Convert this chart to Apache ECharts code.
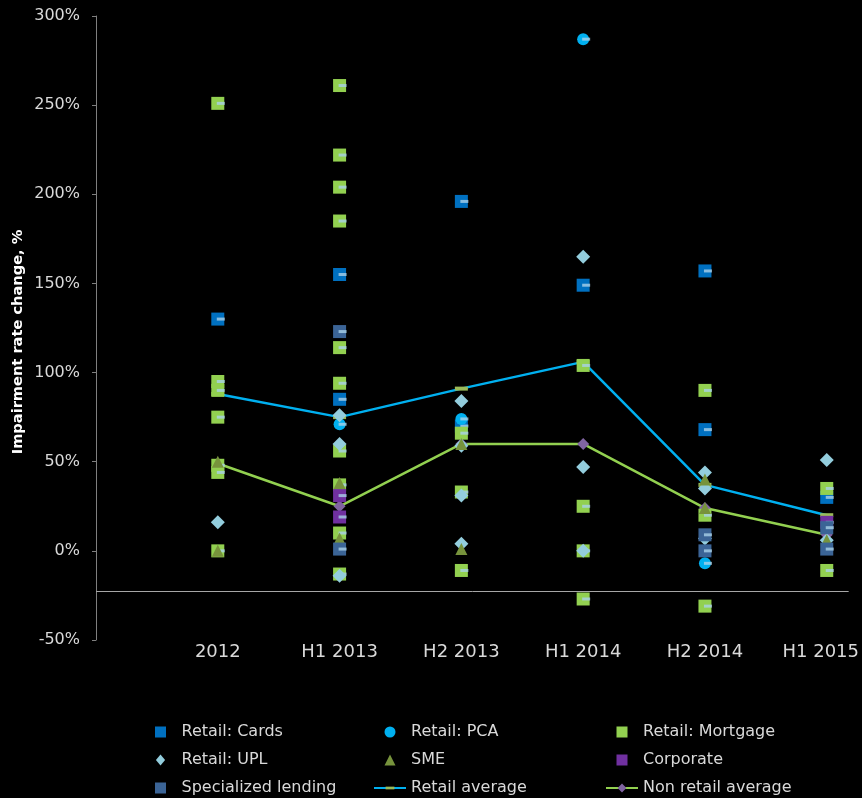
<!DOCTYPE html>
<html>
<head>
<meta charset="utf-8">
<script src="https://cdn.jsdelivr.net/npm/echarts@6/dist/echarts.min.js"></script>
<style>
  html, body { margin: 0; padding: 0; background: #000; overflow: hidden; }
  #chart { width: 862px; height: 798px; }
</style>
</head>
<body>
<div id="chart"></div>
<script>
// Reporting periods along the horizontal axis
const periods = ['2012', 'H1 2013', 'H2 2013', 'H1 2014', 'H2 2014', 'H1 2015'];

// Impairment rate change (%) per portfolio, one list of observations per period
const retailCards    = [[130], [155, 85], [196, 70], [149], [157, 68], [30]];
const retailPCA      = [[], [71], [74], [287], [-7], []];
const retailMortgage = [[251, 95, 90, 75, 48, 44, 0], [261, 222, 204, 185, 114, 94, 56, 37, 10, -13], [66, 33, -11], [104, 25, 0, -27], [90, 20, -31], [35, -11]];
const retailUPL      = [[16], [76, 60, -14], [84, 59, 31, 4], [165, 47, 0], [44, 35, 7], [51, 6]];
const sme            = [[50, 0], [38, 7], [60, 1], [], [40, 24], [6]];
const corporate      = [[], [31, 19], [], [], [], [16]];
const specialized    = [[], [123, 1], [], [], [9, 0], [13, 1]];

// Period averages
const retailAverage    = [88, 75, 91, 106, 37, 20];
const nonRetailAverage = [49, 25, 60, 60, 24, 9];

// Value-axis ticks
const yTicks = { min: -50, max: 300, step: 50 };
const baselineValue = -22.4;

const toPoints = arr => arr.flatMap((vals, i) => vals.map(v => [i + 1, v]));
const toLine = arr => arr.map((v, i) => [i + 1, v]);

// Marker outlines as paths so legend icons keep their proportions
const SQUARE   = 'path://M0,0H10V10H0Z';
const DIAMOND  = 'path://M5,0L10,6L5,12L0,6Z';
const TRIANGLE = 'path://M5,0L10,10L0,10Z';
// Horizontal dash inside a square bounding box (the moves fix the box)
const DASH     = 'path://M0,0M13,13M0,4.5H13V8.5H0Z';

const dashColor = '#a9d1e8';
function scatter(name, data, symbol, color, size) {
  return {
    name, type: 'scatter', data: toPoints(data), symbol, symbolSize: size,
    symbolKeepAspect: true, z: 3,
    itemStyle: { color, opacity: 1 }, emphasis: { disabled: true }
  };
}
function dash(name, data) {
  return {
    name: name + ' dash', type: 'scatter', data: toPoints(data), symbol: 'rect',
    symbolSize: [8, 3], symbolOffset: [3, 0], itemStyle: { color: dashColor },
    silent: true, z: 3, emphasis: { disabled: true }
  };
}

const legendText = { color: '#d9d9d9', fontSize: 16, fontFamily: 'DejaVu Sans', lineHeight: 16 };
function legendCol(left, items) {
  return {
    orient: 'vertical', left, top: 724, height: 120, padding: 0,
    itemWidth: 32, itemHeight: 11, itemGap: 12,
    symbolKeepAspect: true, textStyle: legendText, data: items, selectedMode: false
  };
}

const chart = echarts.init(document.getElementById('chart'), null, { renderer: 'canvas' });
chart.setOption({
  backgroundColor: '#000',
  animation: false,
  grid: { left: 96, right: 12, top: 16, bottom: 158, containLabel: false },
  legend: [
    legendCol(155, ['Retail: Cards', { name: 'Retail: UPL', icon: DIAMOND }, 'Specialized lending']),
    legendCol(373, ['Retail: PCA', 'SME', 'Retail average']),
    legendCol(605, ['Retail: Mortgage', 'Corporate', 'Non retail average'])
  ],
  xAxis: {
    type: 'value', min: 0, max: 6.18, interval: 1,
    axisLine: { show: false }, axisTick: { show: false }, splitLine: { show: false },
    axisLabel: {
      color: '#d9d9d9', fontSize: 18, fontFamily: 'DejaVu Sans', margin: 3,
      showMaxLabel: false,
      formatter: v => {
        const label = periods[v - 1] || '';
        return v === periods.length ? '{last|' + label + '}' : label;
      },
      rich: { last: { color: '#d9d9d9', fontSize: 18, fontFamily: 'DejaVu Sans', padding: [0, 12, 0, 0] } }
    }
  },
  yAxis: {
    type: 'value', min: yTicks.min, max: yTicks.max, interval: yTicks.step,
    axisLine: { show: true, lineStyle: { color: '#7f7f7f', width: 1 } },
    axisTick: { show: true, inside: false, length: 4, lineStyle: { color: '#7f7f7f' } },
    splitLine: { show: false },
    axisLabel: { color: '#d9d9d9', fontSize: 16, fontFamily: 'DejaVu Sans', margin: 16, formatter: '{value}%' }
  },
  graphic: [{
    type: 'text', x: 18, y: 342, rotation: Math.PI / 2,
    style: {
      text: 'Impairment rate change, %', fill: '#ffffff',
      font: 'bold 14.6px "DejaVu Sans"', textAlign: 'center', textVerticalAlign: 'middle'
    }
  }],
  series: [
    {
      name: 'Retail average', type: 'line', data: toLine(retailAverage), z: 1,
      symbol: DASH, symbolSize: 13, showAllSymbol: true,
      lineStyle: { color: '#00b0f0', width: 2.5 },
      itemStyle: { color: '#9bbb59' },
      emphasis: { disabled: true },
      markLine: {
        silent: true, symbol: 'none', label: { show: false },
        lineStyle: { color: '#a6a6a6', width: 1, type: 'solid' },
        data: [{ yAxis: baselineValue }]
      }
    },
    {
      name: 'Non retail average', type: 'line', data: toLine(nonRetailAverage), z: 1,
      symbol: 'diamond', symbolSize: 12, showAllSymbol: true,
      lineStyle: { color: '#92d050', width: 2.5 },
      itemStyle: { color: '#8064a2' },
      emphasis: { disabled: true }
    },
    scatter('Retail: Cards', retailCards, SQUARE, '#0070c0', 13),
    dash('Retail: Cards', retailCards),
    scatter('Retail: PCA', retailPCA, 'circle', '#00b0f0', 12),
    dash('Retail: PCA', retailPCA),
    scatter('Retail: Mortgage', retailMortgage, SQUARE, '#92d050', 13),
    dash('Retail: Mortgage', retailMortgage),
    scatter('Retail: UPL', retailUPL, 'diamond', '#93cddd', 14),
    scatter('SME', sme, TRIANGLE, '#77933c', 12),
    scatter('Corporate', corporate, SQUARE, '#7030a0', 13),
    dash('Corporate', corporate),
    scatter('Specialized lending', specialized, SQUARE, '#3b6496', 13),
    dash('Specialized lending', specialized)
  ]
});
</script>
</body>
</html>
